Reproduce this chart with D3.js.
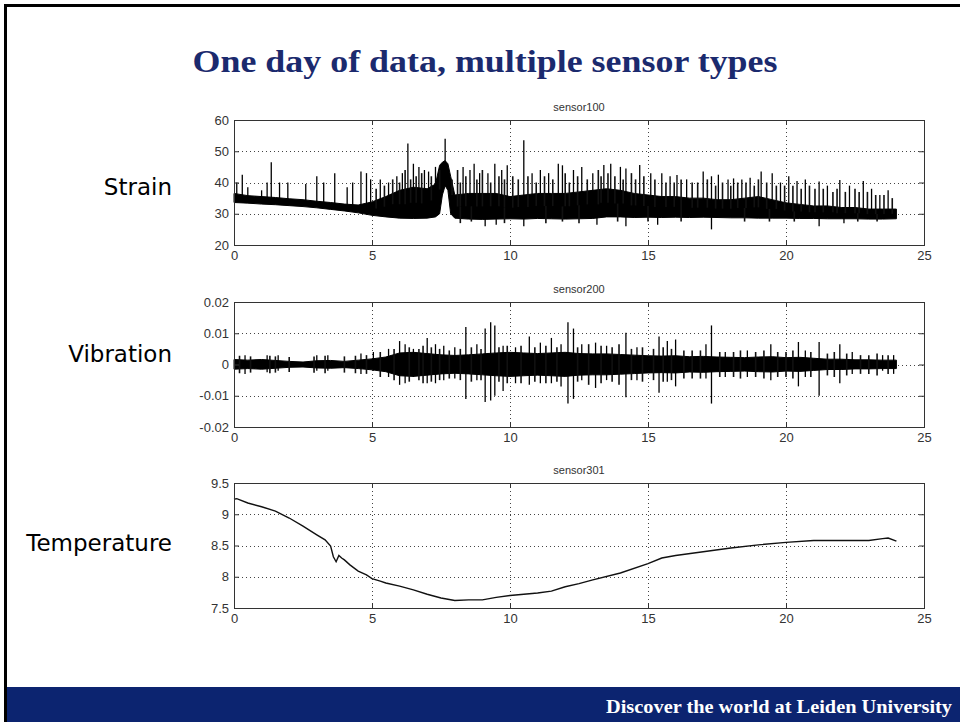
<!DOCTYPE html>
<html>
<head>
<meta charset="utf-8">
<script src="https://cdn.jsdelivr.net/npm/d3@7"></script>
<style>
  body { margin: 0; background: #fff; }
  svg { display: block; }
</style>
</head>
<body>
<svg></svg>
<script>
const WIDTH = 960
const HEIGHT = 722

// x axis (hours) shared by all panels
const hourTicks = [0, 5, 10, 15, 20, 25]

// sensor100 - strain: dense band (low/high) + spikes
const strainT = [0, 0.5, 1, 1.5, 2, 2.5, 3, 3.5, 4, 4.5, 5, 5.5, 6, 6.5, 7,
  7.3, 7.45, 7.55, 7.65, 7.75, 7.85,
  8, 8.5, 9, 9.5, 10, 10.5, 11, 11.5, 12, 12.5, 13, 13.5, 14, 14.5, 15, 15.5, 16,
  16.5, 17, 17.5, 18, 18.5, 19, 19.5, 20, 20.5, 21, 21.5, 22, 22.5, 23, 23.5, 24]
const strainLow = [33.6, 33.4, 33.1, 32.9, 32.6, 32.3, 31.9, 31.4, 30.9, 30.3, 29.5, 29.0, 28.6, 28.5, 28.6,
  29.0, 30.0, 36.0, 39.0, 37.5, 30.0,
  28.6, 28.3, 28.2, 28.3, 28.4, 28.3, 28.5, 28.4, 28.3, 28.4, 28.5, 29.0, 29.0, 28.8, 28.9, 28.8, 28.9,
  28.8, 28.9, 28.8, 28.7, 28.7, 28.6, 28.6, 28.6, 28.5, 28.5, 28.4, 28.4, 28.4, 28.3, 28.3, 28.4]
const strainHigh = [36.5, 35.8, 35.5, 35.2, 34.8, 34.5, 34.0, 33.6, 33.1, 32.8, 33.8, 35.5, 37.5, 38.5, 38.0,
  39.5, 45.5, 46.5, 47.0, 46.0, 42.0,
  36.0, 36.5, 36.5, 36.5, 35.5, 36.0, 36.5, 36.5, 36.5, 37.0, 37.5, 38.0, 37.5, 36.5, 36.0, 35.5, 35.5,
  35.0, 35.0, 34.5, 34.5, 35.0, 35.5, 34.5, 33.5, 33.0, 32.5, 32.5, 32.0, 32.0, 31.5, 31.5, 31.5]
// tall spikes (peaks and dips)
const strainSpikeT = [0.1, 0.3, 0.5, 1.0, 1.2, 1.35, 1.65, 1.95, 2.6, 3.0, 3.25, 3.65, 4.1, 4.3, 4.6, 4.8, 4.95,
  5.3, 5.6, 5.9, 6.1, 6.3, 6.5, 6.7, 6.9, 7.05, 7.3, 7.65, 8.3, 8.55, 8.7, 8.9, 9.2, 9.45, 9.7, 9.9,
  10.5, 10.8, 11.1, 11.4, 11.75, 11.9, 12.3, 12.6, 13.0, 13.4, 13.65, 14.0, 14.2, 14.7, 15.1, 15.5, 15.8,
  16.05, 16.4, 17.0, 17.3, 17.55, 17.9, 18.1, 18.4, 18.7, 19.1, 19.5, 19.8, 20.1, 20.4, 20.7, 21.2, 21.5,
  21.95, 22.3, 22.8, 23.1, 23.4, 23.7,
  9.1, 9.5, 10.5, 13.15, 14.2, 15.35, 17.3, 21.2, 22.1]
const strainSpikeV = [40, 42.5, 38.5, 37.5, 40, 46.5, 40, 40, 39.5, 42, 40, 43, 38.5, 40, 43.5, 43, 41,
  41, 40, 42, 43, 52.5, 46, 45, 44, 43.5, 45, 54, 45, 44, 46, 43, 43, 46, 44, 45.5,
  53.5, 43, 44, 43, 46, 45.5, 44, 45, 43, 45.6, 46, 45, 44.5, 45.6, 43, 43, 42,
  42.4, 41, 43.5, 42, 42.5, 41, 41.3, 41, 41.5, 43.5, 43, 40, 42, 40.5, 41, 40.3, 39,
  40.8, 39, 40.5, 38, 36, 37.5,
  26, 26.5, 26, 26.5, 26, 26.5, 25, 26, 27]
// shorter spikes that make the fuzz of the band
const strainFuzzT = [5.15, 5.45, 5.75, 6.0, 6.2, 6.4, 6.6, 6.8, 7.15, 7.45, 7.9, 8.1, 8.2, 8.4, 8.8, 9.0, 9.3,
  9.6, 9.8, 10.1, 10.3, 10.65, 10.95, 11.25, 11.55, 12.0, 12.15, 12.45, 12.8, 13.2, 13.3, 13.55, 13.8,
  14.1, 14.4, 14.55, 14.85, 15.25, 15.65, 15.95, 16.2, 16.6, 16.8, 17.15, 17.45, 17.7, 18.0, 18.25,
  18.55, 18.85, 19.0, 19.3, 19.65, 19.95, 20.25, 20.55, 20.85, 21.05, 21.35, 21.7, 21.85, 22.15, 22.5,
  22.65, 22.95, 23.25, 23.55, 23.85,
  8.2, 8.6, 9.8, 11.3, 11.9, 12.5, 13.9, 15.0, 16.2, 18.5, 19.4, 20.3, 22.6, 23.3]
const strainFuzzV = [38, 39, 41, 40, 44, 41, 42, 43, 42, 44, 41, 44, 40, 42, 41, 44, 40,
  42, 41, 42, 41, 42, 40, 42, 41, 43, 40, 42, 41, 44, 42, 43, 42,
  41, 43, 41, 42, 41, 40, 40, 41, 40, 40, 41, 39, 40, 39, 40,
  40, 39, 41, 40, 39, 39, 39, 38, 39, 38, 38, 37, 38, 37, 38,
  37, 37, 36, 36, 35,
  27, 27.5, 27, 27, 27.5, 27, 27.5, 27.5, 27.5, 27.5, 27.5, 27.5, 27.5, 27.5]

// sensor200 - vibration: envelope + spikes
const vibT = [0, 0.5, 1, 1.5, 2, 2.5, 3, 3.5, 4, 4.5, 5, 5.5, 6, 6.5, 7, 7.5, 8, 8.5, 9, 9.5,
  10, 10.5, 11, 11.5, 12, 12.5, 13, 13.5, 14, 14.5, 15, 15.5, 16, 16.5, 17, 17.5, 18, 18.5, 19, 19.5,
  20, 20.5, 21, 21.5, 22, 22.5, 23, 23.5, 24]
const vibHigh = [0.0016, 0.0014, 0.0016, 0.0013, 0.0010, 0.0008, 0.0012, 0.0013, 0.0010, 0.0014,
  0.0018, 0.0024, 0.0037, 0.0039, 0.0035, 0.0031, 0.0029, 0.0031, 0.0034, 0.0037,
  0.0039, 0.0037, 0.0035, 0.0037, 0.0039, 0.0035, 0.0034, 0.0034, 0.0032, 0.0030,
  0.0028, 0.0027, 0.0028, 0.0025, 0.0026, 0.0024, 0.0023, 0.0022, 0.0024, 0.0025,
  0.0022, 0.0023, 0.0020, 0.0017, 0.0017, 0.0015, 0.0015, 0.0014, 0.0014]
const vibLow = [-0.0015, -0.0013, -0.0015, -0.0012, -0.0009, -0.0008, -0.0011, -0.0012, -0.0010, -0.0013,
  -0.0017, -0.0023, -0.0036, -0.0038, -0.0034, -0.0030, -0.0028, -0.0030, -0.0033, -0.0036,
  -0.0038, -0.0036, -0.0034, -0.0036, -0.0038, -0.0034, -0.0033, -0.0033, -0.0031, -0.0029,
  -0.0027, -0.0026, -0.0027, -0.0024, -0.0025, -0.0023, -0.0022, -0.0021, -0.0023, -0.0024,
  -0.0021, -0.0022, -0.0019, -0.0016, -0.0016, -0.0014, -0.0014, -0.0013, -0.0013]
const vibSpikeT = [0.4, 1.2, 1.6, 3.0, 3.4, 4.6, 5.05, 5.6, 6.0, 6.2, 6.5, 7.0, 7.3, 7.6, 8.0, 8.4, 8.8,
  9.1, 9.3, 9.45, 9.75, 10.2, 10.7, 11.1, 11.5, 11.85, 12.1, 12.3, 12.6, 13.1, 13.5, 14.2, 14.6,
  15.4, 15.7, 16.0, 17.1, 17.3, 17.8, 18.6, 19.45, 20.45, 20.7, 21.2, 21.95, 22.4, 23.5, 23.9]
const vibSpikeHi = [0.003, 0.003, 0.003, 0.003, 0.003, 0.0035, 0.004, 0.005, 0.0075, 0.0065, 0.005, 0.0085,
  0.0065, 0.006, 0.0055, 0.012, 0.0065, 0.0115, 0.0135, 0.0125, 0.006, 0.0055, 0.009, 0.007, 0.0085,
  0.0065, 0.0135, 0.0115, 0.0065, 0.007, 0.006, 0.0102, 0.0055, 0.009, 0.0075, 0.008, 0.0065, 0.0125,
  0.004, 0.0045, 0.0065, 0.0072, 0.0045, 0.0072, 0.0065, 0.004, 0.003, 0.003]
const vibSpikeLo = [-0.003, -0.0025, -0.002, -0.002, -0.002, -0.003, -0.002, -0.004, -0.0065, -0.006, -0.004,
  -0.006, -0.006, -0.005, -0.0045, -0.011, -0.005, -0.012, -0.0115, -0.01, -0.0085, -0.006, -0.0065,
  -0.006, -0.006, -0.007, -0.0125, -0.011, -0.005, -0.0075, -0.005, -0.0105, -0.005, -0.009, -0.0055,
  -0.007, -0.0045, -0.0125, -0.004, -0.004, -0.005, -0.007, -0.004, -0.01, -0.006, -0.003, -0.002, -0.003]
// small bursts that roughen the envelope (half-amplitude, drawn both ways)
const vibFuzzT = [0.2, 0.6, 1.3, 1.5, 2.0, 2.9, 3.3, 4.0, 4.4, 4.8, 5.3, 5.8, 6.35, 6.7, 6.85, 7.15, 7.45,
  7.8, 8.2, 8.6, 8.95, 9.6, 9.9, 10.4, 10.9, 11.3, 11.7, 12.45, 12.85, 13.3, 13.7, 13.95, 14.4, 14.8,
  15.2, 15.55, 15.85, 16.3, 16.6, 16.9, 17.6, 18.1, 18.35, 18.9, 19.2, 19.7, 20.0, 20.25, 20.9, 21.5,
  21.75, 22.2, 22.7, 23.0, 23.3, 23.7]
const vibFuzzA = [0.0028, 0.0026, 0.0028, 0.0026, 0.0024, 0.0026, 0.0028, 0.0026, 0.0028, 0.003, 0.004,
  0.005, 0.0055, 0.005, 0.006, 0.0055, 0.005, 0.0045, 0.005, 0.0055, 0.005, 0.0055, 0.006, 0.006,
  0.0055, 0.006, 0.0055, 0.0055, 0.0065, 0.006, 0.0055, 0.0065, 0.005, 0.0055, 0.005, 0.0055, 0.005,
  0.0045, 0.0045, 0.0045, 0.004, 0.004, 0.0045, 0.004, 0.0045, 0.004, 0.004, 0.0045, 0.004, 0.0035,
  0.004, 0.0035, 0.003, 0.003, 0.0035, 0.003]

// sensor301 - temperature
const tempT = [0, 0.1, 0.5, 1, 1.5, 2, 2.5, 3, 3.3, 3.5, 3.6, 3.7, 3.8, 3.9, 4.0, 4.2, 4.5, 4.8, 5, 5.3,
  5.5, 6, 6.5, 7, 7.5, 8, 8.5, 9, 9.5, 10, 10.5, 11, 11.5, 12, 12.5, 13, 14, 15, 15.5, 16,
  17, 18, 19, 20, 21, 22, 23, 23.5, 23.7, 24]
const tempV = [9.24, 9.25, 9.18, 9.12, 9.05, 8.94, 8.81, 8.67, 8.59, 8.49, 8.32, 8.24, 8.34, 8.30, 8.27, 8.19, 8.09, 8.03, 7.97, 7.93,
  7.90, 7.85, 7.79, 7.72, 7.66, 7.62, 7.63, 7.63, 7.67, 7.70, 7.72, 7.74, 7.77, 7.84, 7.89, 7.95, 8.06, 8.21, 8.30, 8.34,
  8.40, 8.46, 8.51, 8.55, 8.58, 8.58, 8.58, 8.61, 8.62, 8.57]

const panels = [
  { title: 'sensor100', label: 'Strain', top: 120, labelY: 195, domain: [20, 60], ticks: [20, 30, 40, 50, 60] },
  { title: 'sensor200', label: 'Vibration', top: 302, labelY: 362, domain: [-0.02, 0.02], ticks: [-0.02, -0.01, 0, 0.01, 0.02] },
  { title: 'sensor301', label: 'Temperature', top: 483, labelY: 551, domain: [7.5, 9.5], ticks: [7.5, 8, 8.5, 9, 9.5] }
]

const LEFT = 234
const RIGHT = 924
const PH = 125

const svg = d3.select('svg')
  .attr('width', WIDTH)
  .attr('height', HEIGHT)

// slide frame + footer
svg.append('path')
  .attr('d', `M5.5,${HEIGHT} V5.5 H${WIDTH}`)
  .attr('fill', 'none')
  .attr('stroke', '#000')
  .attr('stroke-width', 3)

svg.append('rect')
  .attr('x', 7).attr('y', 687)
  .attr('width', WIDTH - 7).attr('height', HEIGHT - 687)
  .attr('fill', '#0c2470')

svg.append('text')
  .attr('x', 952).attr('y', 713)
  .attr('text-anchor', 'end')
  .attr('fill', '#fff')
  .attr('textLength', 346)
  .attr('lengthAdjust', 'spacingAndGlyphs')
  .style('font', 'bold 19px "Liberation Serif", serif')
  .text('Discover the world at Leiden University')

svg.append('text')
  .attr('x', 485).attr('y', 72)
  .attr('text-anchor', 'middle')
  .attr('fill', '#1b2a6e')
  .attr('textLength', 585)
  .attr('lengthAdjust', 'spacingAndGlyphs')
  .style('font', 'bold 32px "Liberation Serif", serif')
  .text('One day of data, multiple sensor types')

const x = d3.scaleLinear().domain([0, 25]).range([LEFT, RIGHT])

panels.forEach((p, i) => {
  const y = d3.scaleLinear().domain(p.domain).range([p.top + PH, p.top])
  const g = svg.append('g')

  // row label
  svg.append('text')
    .attr('x', 172).attr('y', p.labelY)
    .attr('text-anchor', 'end')
    .style('font', '23px "DejaVu Sans", sans-serif')
    .text(p.label)

  // panel title
  g.append('text')
    .attr('x', (LEFT + RIGHT) / 2).attr('y', p.top - 9)
    .attr('text-anchor', 'middle')
    .attr('fill', '#333')
    .style('font', '11px "Liberation Sans", Arial, sans-serif')
    .text(p.title)

  // dotted grid
  const grid = g.append('g')
    .attr('stroke', '#444')
    .attr('stroke-width', 1)
    .attr('stroke-dasharray', '1,3')
  grid.selectAll('.gx')
    .data(hourTicks.slice(1, -1))
    .enter().append('line')
    .attr('x1', d => x(d) + 0.5).attr('x2', d => x(d) + 0.5)
    .attr('y1', p.top).attr('y2', p.top + PH)
  grid.selectAll('.gy')
    .data(p.ticks.slice(1, -1))
    .enter().append('line')
    .attr('x1', LEFT).attr('x2', RIGHT)
    .attr('y1', d => Math.round(y(d)) + 0.5).attr('y2', d => Math.round(y(d)) + 0.5)

  // data
  const plot = g.append('g')
  if (i === 0) {
    const band = strainT.map((t, k) => ({ t, lo: strainLow[k], hi: strainHigh[k] }))
    plot.append('path')
      .datum(band)
      .attr('fill', '#000')
      .attr('stroke', '#000')
      .attr('stroke-width', 1)
      .attr('d', d3.area().x(d => x(d.t)).y0(d => y(d.lo)).y1(d => y(d.hi)))
    const bis = d3.bisector(d => d.t).center
    const mid = t => {
      const b = band[bis(band, t)]
      return y((b.lo + b.hi) / 2)
    }
    plot.selectAll('.fuzz')
      .data(strainFuzzT.map((t, k) => ({ t, v: strainFuzzV[k] })))
      .enter().append('line')
      .attr('x1', d => x(d.t)).attr('x2', d => x(d.t))
      .attr('y1', d => mid(d.t)).attr('y2', d => y(d.v))
      .attr('stroke', '#111')
      .attr('stroke-width', 1.6)
    plot.selectAll('.spike')
      .data(strainSpikeT.map((t, k) => ({ t, v: strainSpikeV[k] })))
      .enter().append('line')
      .attr('x1', d => x(d.t)).attr('x2', d => x(d.t))
      .attr('y1', d => mid(d.t)).attr('y2', d => y(d.v))
      .attr('stroke', '#000')
      .attr('stroke-width', 1.3)
  } else if (i === 1) {
    const band = vibT.map((t, k) => ({ t, lo: vibLow[k], hi: vibHigh[k] }))
    plot.append('path')
      .datum(band)
      .attr('fill', '#000')
      .attr('stroke', '#000')
      .attr('stroke-width', 1)
      .attr('d', d3.area().x(d => x(d.t)).y0(d => y(d.lo)).y1(d => y(d.hi)))
    plot.selectAll('.fuzz')
      .data(vibFuzzT.map((t, k) => ({ t, a: vibFuzzA[k] })))
      .enter().append('line')
      .attr('x1', d => x(d.t)).attr('x2', d => x(d.t))
      .attr('y1', d => y(-d.a)).attr('y2', d => y(d.a))
      .attr('stroke', '#111')
      .attr('stroke-width', 1.6)
    plot.selectAll('.spike')
      .data(vibSpikeT.map((t, k) => ({ t, hi: vibSpikeHi[k], lo: vibSpikeLo[k] })))
      .enter().append('line')
      .attr('x1', d => x(d.t)).attr('x2', d => x(d.t))
      .attr('y1', d => y(d.lo)).attr('y2', d => y(d.hi))
      .attr('stroke', '#000')
      .attr('stroke-width', 1.3)
  } else {
    plot.append('path')
      .datum(tempT.map((t, k) => ({ t, v: tempV[k] })))
      .attr('fill', 'none')
      .attr('stroke', '#111')
      .attr('stroke-width', 1.4)
      .attr('d', d3.line().x(d => x(d.t)).y(d => y(d.v)))
  }

  // axes, matlab style: inward ticks on all four sides
  const fmt = d => String(d)
  const styleAxis = sel => {
    sel.select('.domain').remove()
    sel.selectAll('line').attr('stroke', '#333')
    sel.selectAll('text')
      .attr('fill', '#333')
      .style('font', '13px "Liberation Sans", Arial, sans-serif')
  }
  g.append('g')
    .attr('transform', `translate(0,${p.top + PH})`)
    .call(d3.axisBottom(x).tickValues(hourTicks).tickFormat(fmt).tickSizeInner(-5).tickSizeOuter(0).tickPadding(6))
    .call(styleAxis)
  g.append('g')
    .attr('transform', `translate(0,${p.top})`)
    .call(d3.axisTop(x).tickValues(hourTicks).tickFormat('').tickSizeInner(-5).tickSizeOuter(0))
    .call(styleAxis)
  g.append('g')
    .attr('transform', `translate(${LEFT},0)`)
    .call(d3.axisLeft(y).tickValues(p.ticks).tickFormat(fmt).tickSizeInner(-5).tickSizeOuter(0).tickPadding(5))
    .call(styleAxis)
  g.append('g')
    .attr('transform', `translate(${RIGHT},0)`)
    .call(d3.axisRight(y).tickValues(p.ticks).tickFormat('').tickSizeInner(-5).tickSizeOuter(0))
    .call(styleAxis)

  g.append('rect')
    .attr('x', LEFT + 0.5).attr('y', p.top + 0.5)
    .attr('width', RIGHT - LEFT).attr('height', PH)
    .attr('fill', 'none')
    .attr('stroke', '#333')
    .attr('stroke-width', 1)
})
</script>
</body>
</html>
